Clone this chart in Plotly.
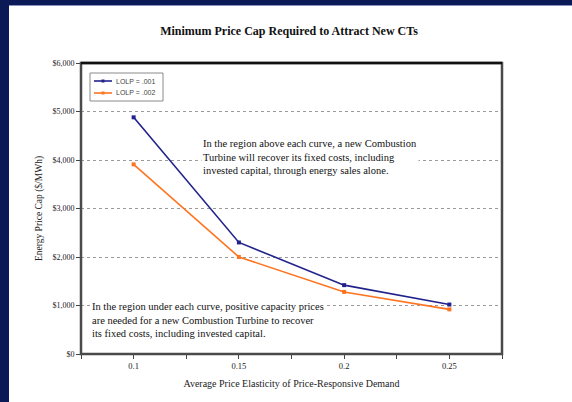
import plotly.graph_objects as go

# Price elasticity scenarios and required price caps ($/MWh)
elasticity = [0.1, 0.15, 0.2, 0.25]
tick_labels = ["0.1", "0.15", "0.2", "0.25"]
cap_lolp_001 = [4880, 2300, 1420, 1020]
cap_lolp_002 = [3910, 2000, 1280, 920]
y_ticks = [0, 1000, 2000, 3000, 4000, 5000, 6000]
y_tick_labels = ["$0", "$1,000", "$2,000", "$3,000", "$4,000", "$5,000", "$6,000"]
series_names = ["LOLP = .001", "LOLP = .002"]
series_colors = ["#22228c", "#ff7420"]

W, H = 572, 402
L, R, T, B = 81, 70, 63, 48
plot_w = W - L - R
plot_h = H - T - B

SERIF = "Liberation Serif, Times New Roman, serif"
SANS = "Liberation Sans, Arial, sans-serif"
NAVY = "#0b1a57"

fig = go.Figure()
for name, vals, col in zip(series_names, [cap_lolp_001, cap_lolp_002], series_colors):
    fig.add_trace(go.Scatter(
        x=elasticity, y=vals, name=name, mode="lines+markers",
        line=dict(color=col, width=1.6),
        marker=dict(symbol="square", size=4, color=col),
        showlegend=False,
    ))


def px_x(X):
    return (X - L) / plot_w


def px_y(Y):
    return (T + plot_h - Y) / plot_h


shapes = [
    # dark frame bands along the top and left of the page
    dict(type="rect", xref="paper", yref="paper", x0=px_x(0), x1=px_x(9),
         y0=px_y(H), y1=px_y(0), fillcolor=NAVY, line=dict(width=0), layer="above"),
    dict(type="rect", xref="paper", yref="paper", x0=px_x(0), x1=px_x(W),
         y0=px_y(5), y1=px_y(0), fillcolor=NAVY, line=dict(width=0), layer="above"),
    dict(type="line", xref="paper", yref="paper", x0=px_x(9), x1=px_x(W),
         y0=px_y(5.5), y1=px_y(5.5), line=dict(color="#8a94c0", width=1), layer="above"),
    # plot area border
    dict(type="rect", xref="paper", yref="paper", x0=0, x1=1, y0=0, y1=1,
         line=dict(color="#4a4a4a", width=2.5), layer="above"),
    dict(type="line", xref="paper", yref="paper", x0=0, x1=1, y0=1, y1=1,
         line=dict(color="#111111", width=2.5), layer="above"),
    # legend box
    dict(type="rect", xref="paper", yref="paper", x0=px_x(90), x1=px_x(163),
         y0=px_y(101), y1=px_y(73), fillcolor="white",
         line=dict(color="#8a8a8a", width=1), layer="above"),
]

annotations = []
legend_rows = [81, 93]
for row_y, name, col in zip(legend_rows, series_names, series_colors):
    shapes.append(dict(type="line", xref="paper", yref="paper",
                       x0=px_x(94), x1=px_x(112), y0=px_y(row_y), y1=px_y(row_y),
                       line=dict(color=col, width=1.6), layer="above"))
    shapes.append(dict(type="rect", xref="paper", yref="paper",
                       x0=px_x(101.5), x1=px_x(104.5), y0=px_y(row_y + 1.5), y1=px_y(row_y - 1.5),
                       fillcolor=col, line=dict(width=0), layer="above"))
    annotations.append(dict(text=name, xref="paper", yref="paper",
                            x=px_x(114), y=px_y(row_y), xanchor="left", yanchor="middle",
                            showarrow=False,
                            font=dict(family=SANS, size=7, color="#444444")))

upper_note = ("In the region above each curve, a new Combustion<br>"
              "Turbine will recover its fixed costs, including<br>"
              "invested capital, through energy sales alone.")
lower_note = ("In the region under each curve, positive capacity prices<br>"
              "are needed for a new Combustion Turbine to recover<br>"
              "its fixed costs, including invested capital.")

annotations += [
    dict(text=upper_note, xref="paper", yref="paper", x=px_x(201), y=px_y(136),
         xanchor="left", yanchor="top", align="left", showarrow=False,
         bgcolor="white", borderpad=1,
         font=dict(family=SERIF, size=10.5, color="#111111")),
    dict(text=lower_note, xref="paper", yref="paper", x=px_x(90), y=px_y(299),
         xanchor="left", yanchor="top", align="left", showarrow=False,
         bgcolor="white", borderpad=1,
         font=dict(family=SERIF, size=10.5, color="#111111")),
]

fig.update_layout(
    width=W, height=H,
    margin=dict(l=L, r=R, t=T, b=B),
    paper_bgcolor="white", plot_bgcolor="white",
    title=dict(text="<b>Minimum Price Cap Required to Attract New CTs</b>",
               x=(W / 2 + 3) / W, xanchor="center", y=1 - 31 / H, yanchor="middle",
               font=dict(family=SERIF, size=12, color="#111111")),
    showlegend=False,
    shapes=shapes,
    annotations=annotations,
    xaxis=dict(
        range=[0.075, 0.275], tickvals=elasticity, ticktext=tick_labels,
        showgrid=False, zeroline=False, showline=False,
        ticks="outside", ticklen=4, tickcolor="#444444",
        minor=dict(dtick=0.025, tick0=0.075, ticks="outside", ticklen=4,
                   tickcolor="#444444", showgrid=False),
        tickfont=dict(family=SERIF, size=8.5, color="#222222"),
        title=dict(text="Average Price Elasticity of Price-Responsive Demand",
                   font=dict(family=SERIF, size=10, color="#222222"), standoff=9),
    ),
    yaxis=dict(
        range=[0, 6000], tickvals=y_ticks, ticktext=y_tick_labels,
        showgrid=True, gridcolor="#9a9a9a", griddash="dot", gridwidth=1,
        zeroline=False, showline=False,
        ticks="outside", ticklen=4, tickcolor="#444444",
        tickfont=dict(family=SERIF, size=8, color="#222222"),
        title=dict(text="Energy Price Cap ($/MWh)",
                   font=dict(family=SERIF, size=9.5, color="#222222"), standoff=8),
    ),
)

fig.write_html("out.html")
